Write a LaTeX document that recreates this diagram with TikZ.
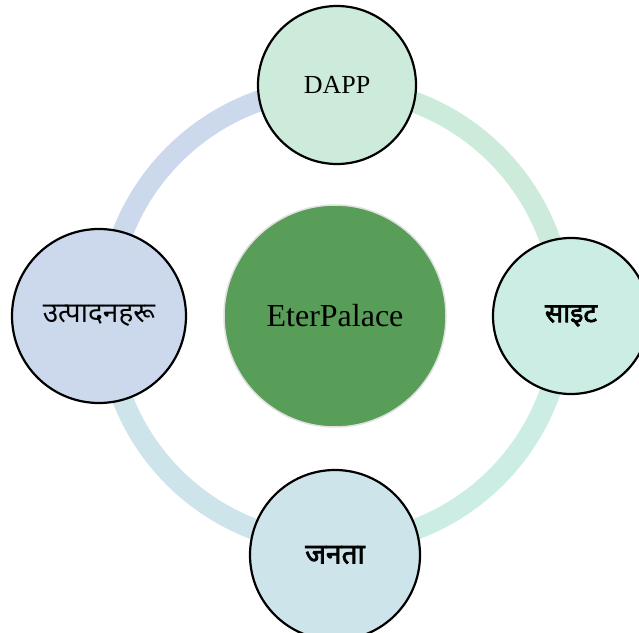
\documentclass[tikz,border=0pt]{standalone}
\usepackage{fontspec}
\setmainfont{Liberation Serif}
\newfontfamily\deva[Script=Devanagari]{Noto Sans}
\newfontfamily\devabold[Script=Devanagari, FakeBold=2.5]{Noto Sans}
\usetikzlibrary{positioning,
                  shapes.geometric}
\definecolor{hubgreen}{RGB}{88,158,88}
\definecolor{dappfill}{RGB}{205,235,218}
\definecolor{sitefill}{RGB}{204,237,228}
\definecolor{janatafill}{RGB}{204,228,234}
\definecolor{utpadfill}{RGB}{204,217,236}

\begin{document}
\begin{tikzpicture}[x=1pt, y=1pt, every node/.style={inner sep=0pt}]
    \tikzset{
    hub/.style={draw=black!12, circle, line width=1.5pt, fill=hubgreen, minimum size=222pt, font=\fontsize{32}{36}\selectfont},
    spoke/.style={draw=black, circle, line width=2.2pt, align=center},
    ring/.style={line width=21pt}
}
\useasboundingbox (0,0) rectangle (639,632);

\node [hub] (hub) at (335,316) {EterPalace};

% ring behind the outer circles
\draw [ring, dappfill] ([shift={(90:228pt)}]hub.center) arc[start angle=90, end angle=0, radius=228pt];
\draw [ring, sitefill] ([shift={(0:228pt)}]hub.center) arc[start angle=0, end angle=-90, radius=228pt];
\draw [ring, janatafill] ([shift={(-90:228pt)}]hub.center) arc[start angle=-90, end angle=-180, radius=228pt];
\draw [ring, utpadfill] ([shift={(180:228pt)}]hub.center) arc[start angle=180, end angle=90, radius=228pt];

\node [spoke, fill=dappfill, minimum size=158pt, above of=hub, node distance=231pt, xshift=2pt, font=\fontsize{26}{30}\selectfont] (dapp) {DAPP};
\node [spoke, fill=sitefill, minimum size=156pt, right of=hub, node distance=236pt, font=\devabold\fontsize{27}{32}\selectfont] (site) {साइट};
\node [spoke, fill=janatafill, minimum size=170pt, below of=hub, node distance=239pt, font=\devabold\fontsize{28}{32}\selectfont] (janata) {जनता};
\node [spoke, fill=utpadfill, minimum size=174pt, left of=hub, node distance=236pt, font=\deva\fontsize{28}{32}\selectfont] (utpad) {उत्पादनहरू};

\end{tikzpicture}
\end{document}
